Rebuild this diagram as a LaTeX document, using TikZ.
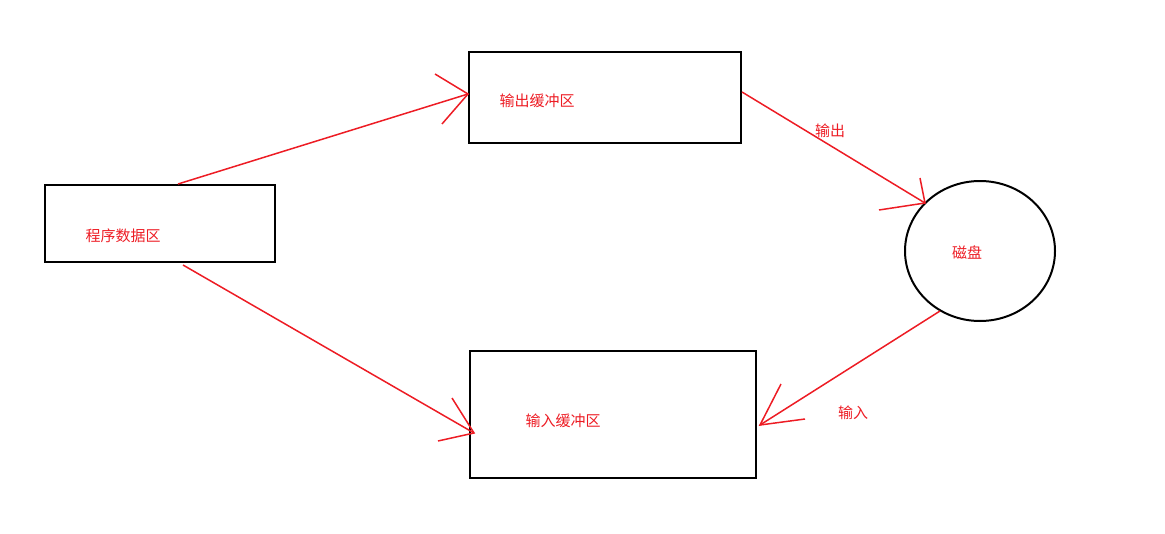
\documentclass[tikz,border=0pt]{standalone}
\usepackage{fontspec}
\newfontfamily\cjk{Noto Sans CJK SC}
\definecolor{myred}{RGB}{237,28,36}
\begin{document}
\begin{tikzpicture}[x=1pt,y=-1pt,
  box/.style={draw=black,line width=2pt},
  lbl/.style={text=myred,font=\cjk\fontsize{15}{18}\selectfont},
  rl/.style={draw=myred,line width=1.5pt}]
\useasboundingbox (0,0) rectangle (1165,533);
\draw[box] (45,185) rectangle (275,262);
\draw[box] (469,52) rectangle (741,143);
\draw[box] (470,351) rectangle (756,478);
\draw[line width=2pt] (980,251) ellipse (75 and 70);
\node[lbl] (p) at (123,236) {程序数据区};
\node[lbl] (o) at (537,101) {输出缓冲区};
\node[lbl] (i) at (563,421) {输入缓冲区};
\node[lbl] (d) at (967,253) {磁盘};
\node[lbl] (lo) at (830,131) {输出};
\node[lbl] (li) at (853,413) {输入};
\coordinate (a1s) at (178,184); \coordinate (a1e) at (468,94);
\coordinate (a2s) at (183,265); \coordinate (a2e) at (474,433);
\coordinate (a3s) at (742,92); \coordinate (a3e) at (925,203);
\coordinate (a4s) at (940,311); \coordinate (a4e) at (760,425);
\draw[rl] (a1s) -- (a1e);
\draw[rl] (435,74) -- (a1e) -- (442,124);
\draw[rl] (a2s) -- (a2e);
\draw[rl] (452,398) -- (a2e) -- (438,441);
\draw[rl] (a3s) -- (a3e);
\draw[rl] (920,178) -- (a3e) -- (879,210);
\draw[rl] (a4s) -- (a4e);
\draw[rl] (781,384) -- (a4e) -- (805,419);
\end{tikzpicture}
\end{document}
